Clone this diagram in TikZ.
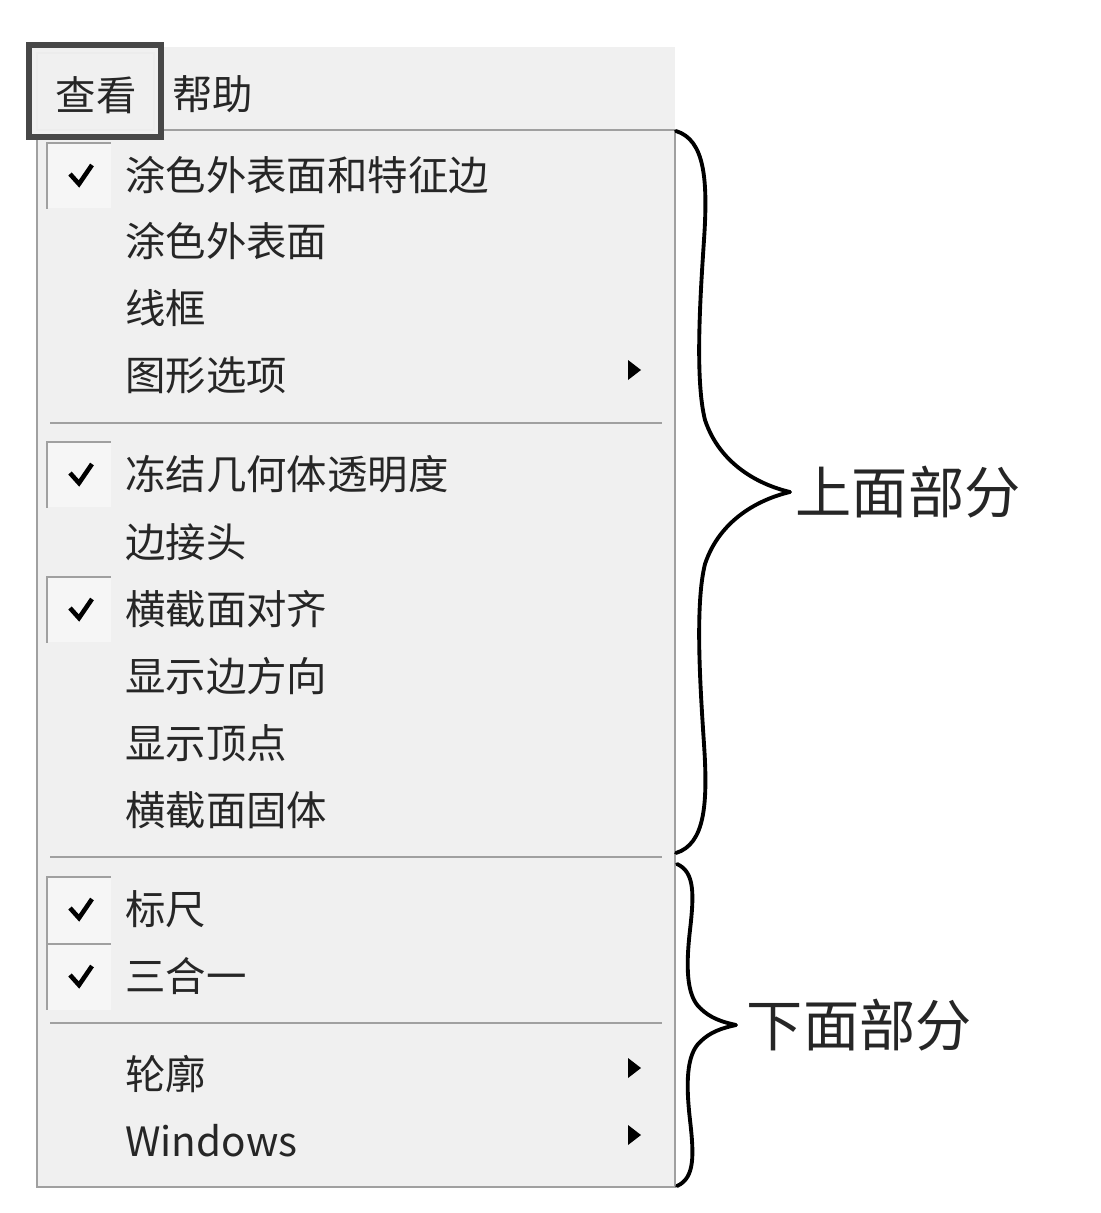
\documentclass[tikz,border=0pt]{standalone}
\usepackage{fontspec}
\setmainfont{Noto Sans CJK SC}
\usetikzlibrary{
    positioning
}
\definecolor{menubg}{HTML}{F0F0F0}
\definecolor{edgegray}{HTML}{A0A0A0}
\definecolor{boxbg}{HTML}{F6F6F6}

\begin{document}
\begin{tikzpicture}[
    x=0.02cm, y=-0.02cm,
    menuitem/.style = {anchor=west, inner sep=0pt, text=black!85,
                       font=\fontsize{23pt}{27pt}\selectfont},
    checkbox/.style = {rectangle, fill=boxbg, inner sep=0pt,
                       minimum width=1.28cm, minimum height=1.3cm},
    boxedge/.style  = {draw=edgegray, line width=1.2pt},
    tick/.style     = {line width=2.6pt, line join=miter, black},
    sepline/.style  = {draw=edgegray, line width=1.1pt},
    submark/.style  = {fill=black},
    bracepath/.style = {line width=2.2pt, line join=round, line cap=round},
    bracelabel/.style = {anchor=west, inner sep=0pt, text=black!85,
                         font=\fontsize{32pt}{36pt}\selectfont}
]
    \useasboundingbox[fill=white] (0,0) rectangle (1100,1213);

    % menu bar and panel
    \fill[menubg] (30,47) rectangle (675,130);
    \filldraw[fill=menubg, draw=edgegray, line width=1.2pt] (37,130) rectangle (675,1187);

    % view button
    \draw[line width=3pt, draw=black!72, fill=menubg] (29,45) rectangle (161,137);
    \draw[line width=1pt, draw=white!85!gray] (37,53) rectangle (154,130);
    \node[menuitem, anchor=center] (view) at (96,95) {查看};
    \node[menuitem] (help) at (172,94) {帮助};

    % check boxes
    \node[checkbox] (ck1) at (79,176) {};
    \node[checkbox] (ck2) at (79,475) {};
    \node[checkbox] (ck3) at (79,610) {};
    \node[checkbox] (ck4) at (79,910) {};
    \node[checkbox] (ck5) at (79,977) {};
    \foreach \c in {ck1,ck2,ck3,ck4,ck5} {
        \draw[boxedge] (\c.south west) |- (\c.north east);
        \draw[tick] ([shift={(-9,-2)}]\c.center) -- ++(9,10) -- ++(13,-19);
    }

    % upper part
    \node[menuitem] (shade)   at (125,175) {涂色外表面和特征边};
    \node[menuitem] (shadeo)  at (125,241) {涂色外表面};
    \node[menuitem] (wire)    at (125,308) {线框};
    \node[menuitem] (gopt)    at (125,375) {图形选项};
    \draw[sepline] (50,423) -- (662,423);
    \node[menuitem] (freeze)  at (125,474) {冻结几何体透明度};
    \node[menuitem] (joint)   at (125,542) {边接头};
    \node[menuitem] (align)   at (125,609) {横截面对齐};
    \node[menuitem] (edir)    at (125,676) {显示边方向};
    \node[menuitem] (vert)    at (125,743) {显示顶点};
    \node[menuitem] (solid)   at (125,810) {横截面固体};
    \draw[sepline] (50,857) -- (662,857);

    % lower part
    \node[menuitem] (ruler)   at (125,909) {标尺};
    \node[menuitem] (three)   at (125,976) {三合一};
    \draw[sepline] (50,1023) -- (662,1023);
    \node[menuitem] (outline) at (125,1074) {轮廓};
    \node[menuitem] (win)     at (125,1141) {Windows};

    % submenu marks
    \fill[submark] (628,360) -- (641,370) -- (628,380) -- cycle;
    \fill[submark] (628,1058) -- (641,1068) -- (628,1078) -- cycle;
    \fill[submark] (628,1125) -- (641,1135) -- (628,1145) -- cycle;

    % braces
    \coordinate (uptip) at (790,492);
    \coordinate (lotip) at (736,1025);
    \draw[bracepath] (676,131) .. controls (705,140) and (708,180) .. (704,240)
        .. controls (700,300) and (695,380) .. (705,420)
        .. controls (720,465) and (760,485) .. (uptip)
        .. controls (760,499) and (720,519) .. (705,564)
        .. controls (695,604) and (700,684) .. (704,744)
        .. controls (708,804) and (705,844) .. (676,853);
    \draw[bracepath] (677,864) .. controls (695,872) and (694,895) .. (690,930)
        .. controls (686,965) and (686,995) .. (700,1008)
        .. controls (710,1018) and (722,1022) .. (lotip)
        .. controls (722,1028) and (710,1032) .. (700,1042)
        .. controls (686,1055) and (686,1085) .. (690,1120)
        .. controls (694,1155) and (695,1178) .. (677,1186);
    \node[bracelabel, right=3pt of uptip] (uplabel) {上面部分};
    \node[bracelabel, right=6pt of lotip] (lolabel) {下面部分};

\end{tikzpicture}
\end{document}
